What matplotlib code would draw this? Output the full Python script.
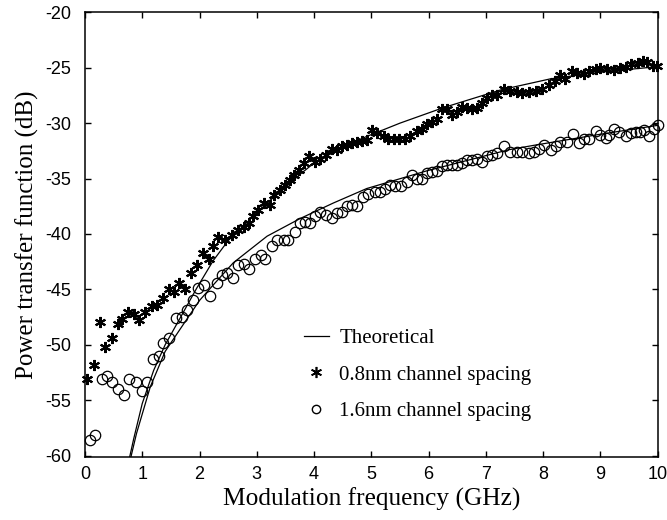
import matplotlib
matplotlib.use("Agg")
import matplotlib.pyplot as plt
from matplotlib.lines import Line2D

# ---------------- data ----------------
star_x = [0.04, 0.16, 0.26, 0.35, 0.47, 0.57, 0.64, 0.76, 0.86, 0.95,
          1.05, 1.17, 1.26, 1.36, 1.46, 1.56, 1.65, 1.75, 1.85, 1.95,
          2.06, 2.16, 2.24, 2.33, 2.45, 2.56, 2.68, 2.77, 2.87, 2.94,
          3.03, 3.12, 3.23, 3.30, 3.41, 3.50, 3.58, 3.65, 3.73, 3.82,
          3.92, 4.02, 4.11, 4.21, 4.31, 4.40, 4.49, 4.57, 4.66, 4.75,
          4.84, 4.92, 5.01, 5.10, 5.22, 5.30, 5.39, 5.49, 5.59, 5.68,
          5.80, 5.89, 5.97, 6.06, 6.15, 6.24, 6.32, 6.41, 6.50, 6.59,
          6.67, 6.76, 6.85, 6.94, 7.02, 7.11, 7.20, 7.31, 7.43, 7.55,
          7.63, 7.75, 7.87, 7.98, 8.10, 8.20, 8.29, 8.39, 8.51, 8.60,
          8.71, 8.80, 8.92, 9.00, 9.12, 9.24, 9.34, 9.44, 9.54, 9.65,
          9.75, 9.82, 9.91, 9.99]
star_y = [-53.1, -51.8, -47.9, -50.2, -49.4, -48.1, -47.7, -47.0, -47.2, -47.8,
          -47.0, -46.5, -46.4, -45.8, -45.0, -45.2, -44.4, -45.0, -43.5, -42.8,
          -41.7, -42.3, -41.1, -40.3, -40.5, -40.1, -39.6, -39.4, -39.0, -38.4,
          -37.8, -37.2, -37.4, -36.5, -36.0, -35.6, -35.1, -34.7, -34.2, -33.6,
          -33.0, -33.5, -33.2, -32.9, -32.3, -32.4, -32.1, -32.0, -31.8, -31.7,
          -31.6, -31.5, -30.6, -30.9, -31.2, -31.4, -31.4, -31.4, -31.4, -31.2,
          -30.7, -30.5, -30.1, -29.9, -29.6, -28.7, -28.7, -29.3, -29.0, -28.5,
          -28.6, -28.7, -28.6, -28.2, -27.7, -27.5, -27.5, -26.9, -27.1, -27.2,
          -27.3, -27.2, -27.1, -26.9, -26.6, -26.2, -25.7, -26.0, -25.3, -25.5,
          -25.6, -25.3, -25.1, -25.0, -25.1, -25.2, -25.0, -24.9, -24.7, -24.6,
          -24.4, -24.5, -24.8, -24.8]

circ_x = [0.08, 0.18, 0.29, 0.39, 0.48, 0.58, 0.68, 0.77, 0.89, 0.99,
          1.08, 1.19, 1.29, 1.37, 1.47, 1.59, 1.69, 1.78, 1.89, 1.98,
          2.07, 2.19, 2.30, 2.39, 2.48, 2.58, 2.68, 2.77, 2.87, 2.97,
          3.07, 3.15, 3.26, 3.36, 3.47, 3.55, 3.67, 3.76, 3.85, 3.93,
          4.02, 4.11, 4.21, 4.31, 4.40, 4.49, 4.57, 4.66, 4.75, 4.85,
          4.94, 5.07, 5.16, 5.24, 5.33, 5.42, 5.51, 5.62, 5.71, 5.80,
          5.89, 5.97, 6.06, 6.15, 6.24, 6.32, 6.41, 6.50, 6.59, 6.67,
          6.76, 6.85, 6.94, 7.02, 7.11, 7.20, 7.31, 7.43, 7.55, 7.63,
          7.75, 7.84, 7.93, 8.01, 8.13, 8.22, 8.30, 8.42, 8.53, 8.62,
          8.71, 8.80, 8.92, 9.00, 9.09, 9.15, 9.24, 9.32, 9.44, 9.53,
          9.62, 9.70, 9.76, 9.85, 9.94, 10.0]
circ_y = [-58.6, -58.1, -53.1, -52.8, -53.4, -54.0, -54.5, -53.1, -53.4, -54.2,
          -53.4, -51.3, -51.0, -49.8, -49.4, -47.6, -47.5, -46.9, -46.0, -44.9,
          -44.6, -45.6, -44.4, -43.7, -43.5, -44.0, -42.8, -42.7, -43.2, -42.3,
          -41.9, -42.3, -41.1, -40.5, -40.5, -40.5, -39.8, -39.0, -38.9, -39.0,
          -38.4, -38.0, -38.3, -38.6, -38.1, -38.0, -37.5, -37.4, -37.5, -36.7,
          -36.4, -36.2, -36.2, -35.9, -35.6, -35.7, -35.7, -35.3, -34.7, -35.0,
          -35.0, -34.5, -34.4, -34.3, -33.9, -33.8, -33.8, -33.8, -33.6, -33.3,
          -33.3, -33.2, -33.5, -33.0, -32.9, -32.7, -32.1, -32.6, -32.6, -32.6,
          -32.7, -32.6, -32.3, -32.0, -32.4, -32.1, -31.7, -31.7, -31.0, -31.8,
          -31.4, -31.4, -30.7, -31.1, -31.3, -31.1, -30.5, -30.8, -31.2, -30.9,
          -30.8, -30.8, -30.6, -31.2, -30.5, -30.2]

theo1_x = [0.76, 0.85, 1.0, 1.2, 1.4, 1.66, 1.95, 2.24, 2.5, 2.8, 3.18, 3.5,
           3.76, 4.0, 4.34, 4.92, 5.5, 6.26, 7.26, 8.13, 9.0, 10.0]
theo1_y = [-60.6, -58.5, -55.3, -52.3, -50.0, -47.6, -44.9, -42.4, -40.6, -39.1,
           -37.2, -35.8, -34.6, -33.6, -32.5, -31.2, -30.0, -28.6, -27.0, -26.0,
           -25.4, -24.9]
theo2_x = [0.78, 0.9, 1.14, 1.4, 1.66, 2.0, 2.24, 2.59, 3.18, 3.76, 4.34, 4.92,
           5.97, 7.4, 7.84, 9.0, 10.0]
theo2_y = [-60.6, -58.0, -53.8, -50.6, -48.6, -46.0, -44.6, -42.6, -40.2, -38.6,
           -37.2, -35.9, -34.3, -32.4, -32.0, -31.0, -30.2]

x_ticks = [0, 1, 2, 3, 4, 5, 6, 7, 8, 9, 10]
y_ticks = [-60, -55, -50, -45, -40, -35, -30, -25, -20]
legend_labels = ["Theoretical", "0.8nm channel spacing", "1.6nm channel spacing"]

# ---------------- figure ----------------
fig = plt.figure(figsize=(6.67, 5.2), dpi=100)
ax = fig.add_axes([0.1274, 0.1217, 0.8586, 0.8546])

serif = ["Liberation Serif", "DejaVu Serif"]
sans = ["Liberation Sans", "DejaVu Sans"]

ax.plot(theo1_x, theo1_y, color="black", lw=0.9)
ax.plot(theo2_x, theo2_y, color="black", lw=0.9)
ax.plot(star_x, star_y, linestyle="none", marker=(6, 2, 0), markersize=8,
        markeredgewidth=1.5, color="black", clip_on=False)
ax.plot(circ_x, circ_y, linestyle="none", marker="o", markersize=7.5,
        markerfacecolor="none", markeredgecolor="black", markeredgewidth=0.9,
        clip_on=False)

ax.set_xlim(0, 10)
ax.set_ylim(-60.1, -20)
ax.set_xticks(x_ticks)
ax.set_yticks(y_ticks)
ax.set_xticklabels([str(t) for t in x_ticks], family=sans, fontsize=13)
ax.set_yticklabels([str(t) for t in y_ticks], family=sans, fontsize=13)
ax.tick_params(direction="in", length=4, width=1, top=True, right=True)
ax.tick_params(axis="y", pad=10)
ax.tick_params(axis="x", pad=7)
for s in ax.spines.values():
    s.set_linewidth(1.1)

ax.set_xlabel("Modulation frequency (GHz)", family=serif, fontsize=18.3, labelpad=3)
ax.set_ylabel("Power transfer function (dB)", family=serif, fontsize=18, labelpad=4)

handles = [
    Line2D([], [], color="black", lw=0.9),
    Line2D([], [], linestyle="none", marker=(6, 2, 0), markersize=8,
           markeredgewidth=1.2, color="black"),
    Line2D([], [], linestyle="none", marker="o", markersize=6,
           markerfacecolor="none", markeredgecolor="black", markeredgewidth=1.0),
]
leg = ax.legend(handles, legend_labels, loc="center left",
                bbox_to_anchor=(0.382, 0.184), frameon=False,
                prop={"family": serif, "size": 15}, handlelength=1.2,
                handletextpad=0.5, labelspacing=0.8, borderpad=0,
                borderaxespad=0)

fig.savefig("out.png", dpi=100)
